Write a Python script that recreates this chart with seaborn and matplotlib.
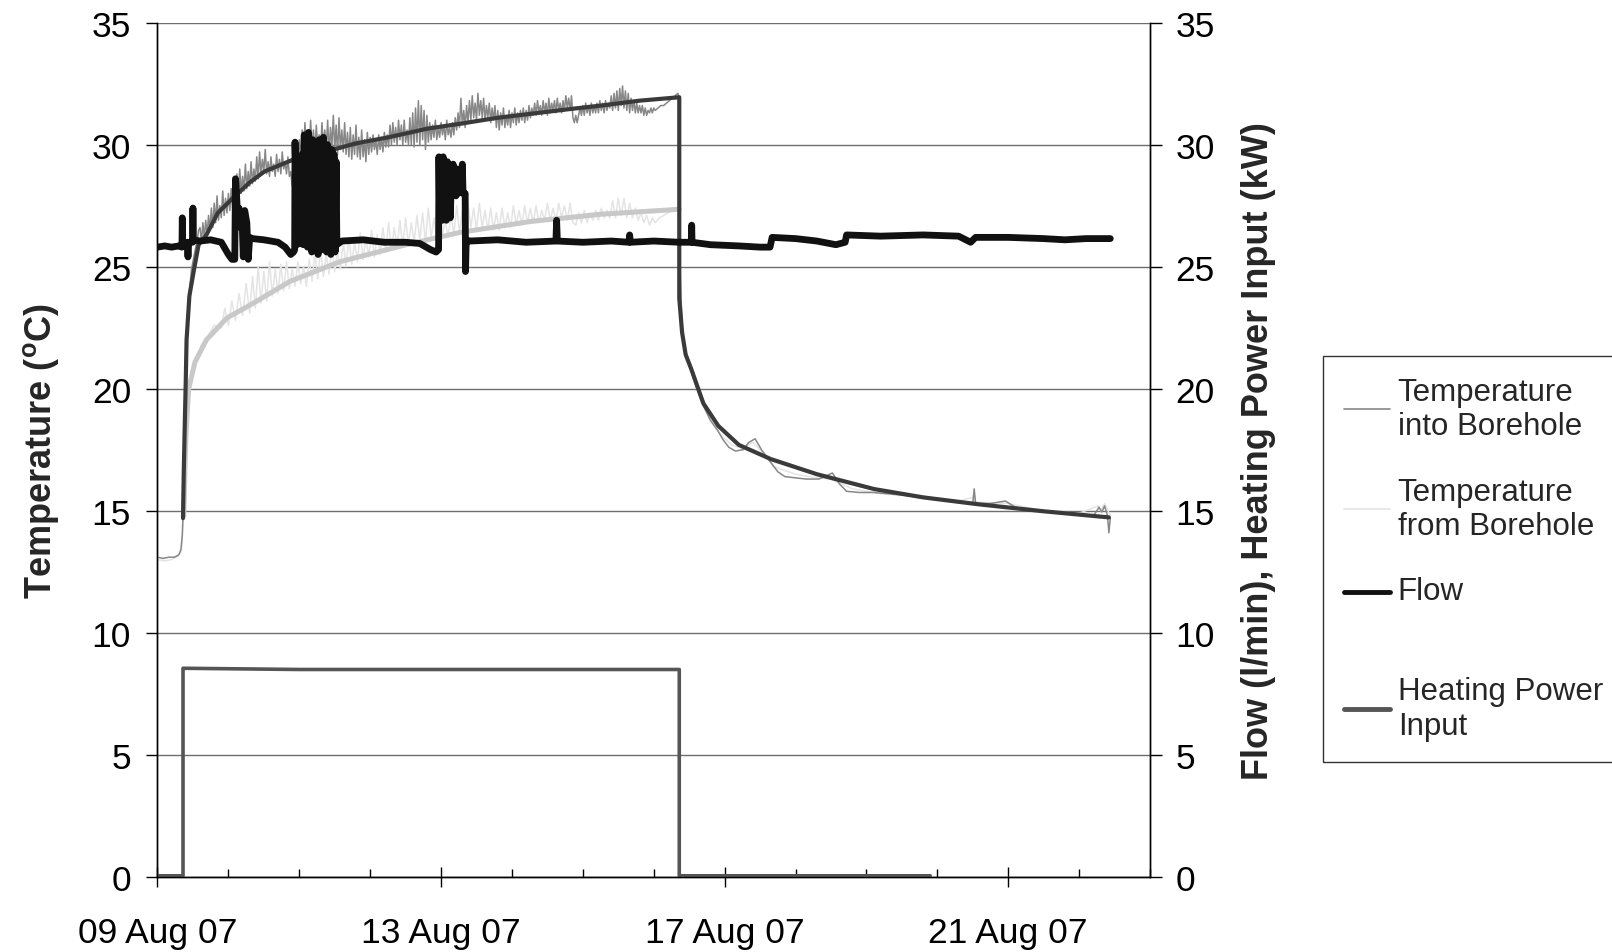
import pandas as pd
import numpy as np
import matplotlib
matplotlib.use("Agg")
import matplotlib.pyplot as plt
import matplotlib.dates as mdates
from matplotlib.lines import Line2D
from matplotlib.legend_handler import HandlerLine2D
import seaborn as sns

start = pd.Timestamp("2007-08-09")

# all values: (days after 09 Aug 07 00:00, value)

# temperature into borehole, measured
into_pre = [(0.00, 13.1), (0.08, 13.05), (0.16, 13.1), (0.24, 13.1), (0.30, 13.2), (0.33, 13.4),
            (0.35, 14.0), (0.36, 14.8), (0.37, 16.8), (0.38, 18.6), (0.40, 21.0), (0.42, 22.8),
            (0.45, 24.0), (0.48, 24.9), (0.52, 25.5), (0.56, 26.1), (0.58, 26.5)]
into_heat = [
    (0.60, 26.6), (0.62, 26.0), (0.64, 26.8), (0.66, 26.2), (0.68, 26.9), (0.70, 26.3), (0.72, 27.1), (0.74, 26.5),
    (0.76, 27.4), (0.78, 26.6), (0.80, 27.6), (0.82, 26.8), (0.84, 27.9), (0.86, 26.9), (0.88, 27.5), (0.90, 27.0),
    (0.92, 28.1), (0.94, 27.1), (0.96, 27.8), (0.98, 27.2), (1.00, 28.0), (1.02, 27.3), (1.04, 28.2), (1.06, 27.4),
    (1.08, 28.4), (1.10, 27.6), (1.12, 28.8), (1.14, 27.9), (1.16, 29.0), (1.18, 28.0), (1.20, 28.7), (1.22, 28.1),
    (1.24, 29.2), (1.26, 28.2), (1.28, 28.9), (1.30, 28.3), (1.32, 29.3), (1.34, 28.4), (1.36, 29.0), (1.38, 28.5),
    (1.40, 29.5), (1.42, 28.6), (1.44, 29.7), (1.46, 28.8), (1.48, 29.4), (1.50, 28.9), (1.52, 29.8), (1.54, 28.8),
    (1.56, 29.3), (1.58, 28.7), (1.60, 29.5), (1.62, 28.9), (1.64, 29.2), (1.66, 28.7), (1.68, 29.6), (1.70, 28.9),
    (1.72, 29.4), (1.74, 28.8), (1.76, 29.7), (1.78, 29.0), (1.80, 29.3), (1.82, 28.8), (1.84, 29.5), (1.86, 28.7),
    (1.88, 28.9), (1.90, 28.3), (1.92, 28.8), (1.94, 28.4), (1.96, 29.0), (1.98, 28.6),
    (2.00, 30.2), (2.02, 29.4), (2.04, 30.6), (2.06, 29.6), (2.08, 30.9), (2.10, 29.8), (2.12, 30.5), (2.14, 29.7),
    (2.16, 31.0), (2.18, 29.9), (2.20, 30.6), (2.22, 29.6), (2.24, 30.8), (2.26, 29.8), (2.28, 30.4), (2.30, 29.7),
    (2.32, 30.9), (2.34, 29.9), (2.36, 30.6), (2.38, 29.8), (2.40, 31.0), (2.42, 29.7), (2.44, 30.7), (2.46, 29.9),
    (2.48, 31.2), (2.50, 29.8), (2.52, 30.8), (2.54, 29.6), (2.56, 31.1), (2.58, 29.8), (2.60, 30.6), (2.62, 29.7),
    (2.64, 30.9), (2.66, 29.6), (2.68, 30.5), (2.70, 29.5), (2.72, 30.7), (2.74, 29.4), (2.76, 30.4), (2.78, 29.6),
    (2.80, 30.8), (2.82, 29.5), (2.84, 30.3), (2.86, 29.4), (2.88, 30.6), (2.90, 29.5), (2.92, 30.2), (2.94, 29.3),
    (2.96, 30.5), (2.98, 29.6), (3.00, 30.3), (3.02, 29.7), (3.04, 30.4), (3.06, 29.8), (3.08, 30.2), (3.10, 29.6),
    (3.12, 30.4), (3.14, 29.8), (3.16, 30.3), (3.18, 29.7), (3.20, 30.5), (3.22, 29.9), (3.24, 30.4), (3.26, 29.9),
    (3.28, 30.8), (3.30, 30.0), (3.32, 30.9), (3.34, 30.1), (3.36, 30.7), (3.38, 30.0), (3.40, 31.0), (3.42, 30.2),
    (3.44, 30.8), (3.46, 30.0), (3.48, 31.0), (3.50, 30.1), (3.52, 30.6), (3.54, 30.0), (3.56, 31.1), (3.58, 30.0),
    (3.60, 31.3), (3.62, 29.9), (3.64, 31.5), (3.66, 30.1), (3.68, 31.8), (3.70, 30.0), (3.72, 31.6), (3.74, 30.2),
    (3.76, 31.4), (3.78, 29.8), (3.80, 31.2), (3.82, 30.1), (3.84, 30.9), (3.86, 30.2), (3.88, 30.8), (3.90, 30.3),
    (3.92, 31.0), (3.94, 30.2), (3.96, 30.7), (3.98, 30.3), (4.00, 30.9), (4.02, 30.4), (4.04, 30.8), (4.06, 30.2),
    (4.08, 31.0), (4.10, 30.4), (4.12, 30.7), (4.14, 30.3), (4.16, 30.9), (4.18, 30.4), (4.20, 31.1), (4.22, 30.6),
    (4.24, 31.3), (4.26, 30.7), (4.28, 31.9), (4.30, 30.8), (4.32, 31.4), (4.34, 30.7), (4.36, 31.6), (4.38, 30.9),
    (4.40, 31.8), (4.42, 31.0), (4.44, 32.0), (4.46, 31.1), (4.48, 31.7), (4.50, 31.0), (4.52, 32.1), (4.54, 31.2),
    (4.56, 31.8), (4.58, 31.1), (4.60, 31.9), (4.62, 31.0), (4.64, 31.6), (4.66, 31.1), (4.68, 31.7), (4.70, 30.9),
    (4.72, 31.5), (4.74, 31.0), (4.76, 31.6), (4.78, 30.7), (4.80, 31.4), (4.82, 30.6), (4.84, 31.3), (4.86, 30.8),
    (4.88, 31.5), (4.90, 30.7), (4.92, 31.2), (4.94, 30.8), (4.96, 31.4), (4.98, 30.7), (5.00, 31.3), (5.02, 30.9),
    (5.04, 31.5), (5.06, 30.8), (5.08, 31.3), (5.10, 30.9), (5.12, 31.4), (5.14, 31.0), (5.16, 31.5), (5.18, 30.9),
    (5.20, 31.4), (5.22, 31.0), (5.24, 31.6), (5.26, 31.1), (5.28, 31.5), (5.30, 31.2), (5.32, 31.7), (5.34, 31.2),
    (5.36, 31.8), (5.38, 31.3), (5.40, 31.6), (5.42, 31.2), (5.44, 31.8), (5.46, 31.3), (5.48, 31.7), (5.50, 31.2),
    (5.52, 31.9), (5.54, 31.3), (5.56, 31.7), (5.58, 31.4), (5.60, 31.8), (5.62, 31.3), (5.64, 31.9), (5.66, 31.4),
    (5.68, 31.7), (5.70, 31.3), (5.72, 31.8), (5.74, 31.4), (5.76, 32.0), (5.78, 31.5), (5.80, 31.9), (5.82, 31.4),
    (5.84, 32.0), (5.86, 31.1), (5.88, 30.9), (5.90, 31.2), (5.92, 30.9), (5.94, 31.2), (5.96, 31.5), (5.98, 31.2),
    (6.00, 31.6), (6.02, 31.2), (6.04, 31.7), (6.06, 31.3), (6.08, 31.6), (6.10, 31.2), (6.12, 31.7), (6.14, 31.3),
    (6.16, 31.6), (6.18, 31.3), (6.20, 31.7), (6.22, 31.3), (6.24, 31.8), (6.26, 31.4), (6.28, 31.7), (6.30, 31.3),
    (6.32, 31.8), (6.34, 31.4), (6.36, 31.7), (6.38, 31.5), (6.40, 32.0), (6.42, 31.4), (6.44, 32.1), (6.46, 31.5),
    (6.48, 32.2), (6.50, 31.4), (6.52, 32.3), (6.54, 31.6), (6.56, 32.4), (6.58, 31.5), (6.60, 32.2), (6.62, 31.4),
    (6.64, 32.1), (6.66, 31.3), (6.68, 31.9), (6.70, 31.4), (6.72, 31.8), (6.74, 31.3), (6.76, 31.7), (6.78, 31.3),
    (6.80, 31.6), (6.82, 31.3), (6.84, 31.6), (6.86, 31.2), (6.88, 31.5), (6.90, 31.2), (6.92, 31.4), (6.94, 31.3),
    (6.96, 31.5), (6.98, 31.3), (7.00, 31.5), (7.02, 31.4), (7.06, 31.5), (7.10, 31.6), (7.14, 31.6), (7.18, 31.7),
    (7.22, 31.8), (7.26, 31.9), (7.30, 32.0), (7.34, 32.1)]
into_after = [(7.36, 31.9), (7.37, 25.0), (7.40, 22.4), (7.45, 21.5), (7.50, 21.0), (7.55, 20.5), (7.62, 19.9),
              (7.70, 19.3), (7.80, 18.7), (7.90, 18.3), (7.98, 17.9), (8.06, 17.6), (8.15, 17.45), (8.26, 17.5),
              (8.34, 17.8), (8.43, 17.95), (8.52, 17.5), (8.62, 17.1), (8.75, 16.6), (8.85, 16.4), (9.00, 16.35),
              (9.15, 16.3), (9.33, 16.3), (9.45, 16.45), (9.52, 16.55), (9.62, 16.1), (9.72, 15.8), (9.90, 15.75),
              (10.10, 15.75), (10.30, 15.7), (10.50, 15.65), (10.75, 15.55), (11.00, 15.45), (11.30, 15.35),
              (11.50, 15.3), (11.52, 15.9), (11.54, 15.3), (11.75, 15.3), (11.96, 15.4), (12.10, 15.15),
              (12.40, 15.0), (12.70, 14.95), (13.00, 14.85), (13.20, 14.8), (13.25, 15.0), (13.28, 15.15),
              (13.32, 14.95), (13.36, 15.2), (13.40, 14.8), (13.42, 14.1), (13.44, 14.7)]

# temperature from borehole, measured
from_pre = [(0.00, 13.0), (0.10, 12.95), (0.20, 13.0), (0.30, 13.15), (0.34, 13.4), (0.36, 14.6),
            (0.38, 17.0), (0.40, 18.3), (0.44, 19.8), (0.50, 20.8), (0.56, 21.3), (0.62, 21.8),
            (0.70, 22.1), (0.80, 22.6), (0.90, 22.5), (0.95, 23.3), (1.00, 22.6), (1.05, 23.6),
            (1.10, 22.8), (1.15, 23.9), (1.20, 23.0), (1.25, 24.3), (1.30, 23.1)]
from_heat = [
    (1.34, 24.6), (1.38, 23.3), (1.42, 25.0), (1.46, 23.5), (1.50, 24.8), (1.54, 23.6), (1.58, 25.2), (1.62, 23.8),
    (1.66, 24.9), (1.70, 23.9), (1.74, 25.1), (1.78, 24.0), (1.82, 25.2), (1.86, 24.1), (1.90, 24.9), (1.94, 24.2),
    (1.98, 25.2), (2.02, 24.3), (2.06, 25.0), (2.10, 24.2), (2.14, 25.3), (2.18, 24.4), (2.22, 25.6), (2.26, 24.5),
    (2.30, 25.7), (2.34, 24.6), (2.38, 25.5), (2.42, 24.7), (2.46, 25.8), (2.50, 24.8), (2.54, 25.6), (2.58, 24.9),
    (2.62, 26.0), (2.66, 25.0), (2.70, 26.2), (2.74, 25.1), (2.78, 26.0), (2.82, 25.2), (2.86, 26.4), (2.90, 25.3),
    (2.94, 26.2), (2.98, 25.4), (3.02, 26.5), (3.06, 25.4), (3.10, 26.3), (3.14, 25.5), (3.18, 26.6), (3.22, 25.6),
    (3.26, 26.8), (3.30, 25.7), (3.34, 26.6), (3.38, 25.8), (3.42, 26.9), (3.46, 25.8), (3.50, 27.0), (3.54, 25.9),
    (3.58, 26.8), (3.62, 26.0), (3.66, 27.1), (3.70, 26.1), (3.74, 27.2), (3.78, 26.0), (3.82, 27.4), (3.86, 26.2),
    (3.90, 27.0), (3.94, 26.1), (3.98, 27.3), (4.02, 26.3), (4.06, 26.9), (4.10, 26.2), (4.14, 27.2), (4.18, 26.3),
    (4.22, 27.5), (4.26, 26.4), (4.30, 27.3), (4.34, 26.5), (4.38, 27.6), (4.42, 26.6), (4.46, 27.4), (4.50, 26.5),
    (4.54, 27.6), (4.58, 26.6), (4.62, 27.3), (4.66, 26.5), (4.70, 27.4), (4.74, 26.5), (4.78, 27.2), (4.82, 26.5),
    (4.86, 27.4), (4.90, 26.6), (4.94, 27.2), (4.98, 26.6), (5.02, 27.5), (5.06, 26.7), (5.10, 27.3), (5.14, 26.7),
    (5.18, 27.5), (5.22, 26.8), (5.26, 27.4), (5.30, 26.8), (5.34, 27.5), (5.38, 26.8), (5.42, 27.3), (5.46, 26.9),
    (5.50, 27.6), (5.54, 26.9), (5.58, 27.4), (5.62, 26.9), (5.66, 27.6), (5.70, 27.0), (5.74, 27.5), (5.78, 26.9),
    (5.82, 27.6), (5.86, 26.8), (5.90, 26.7), (5.94, 27.2), (5.98, 26.8), (6.02, 27.3), (6.06, 26.8), (6.10, 27.2),
    (6.14, 26.9), (6.18, 27.3), (6.22, 26.9), (6.26, 27.4), (6.30, 27.0), (6.34, 27.3), (6.38, 27.0), (6.42, 27.7),
    (6.46, 27.0), (6.50, 27.8), (6.54, 27.1), (6.58, 27.8), (6.62, 27.0), (6.66, 27.6), (6.70, 27.0), (6.74, 27.4),
    (6.78, 26.9), (6.82, 27.2), (6.86, 26.8), (6.90, 27.1), (6.94, 26.7), (6.98, 27.0), (7.02, 26.8), (7.08, 27.0),
    (7.14, 27.1), (7.20, 27.2), (7.26, 27.3), (7.32, 27.4)]
from_after = [(7.36, 27.3), (7.37, 25.2), (7.40, 22.6), (7.46, 21.4), (7.55, 20.6), (7.65, 19.7), (7.75, 19.0),
              (7.85, 18.5), (7.95, 18.1), (8.10, 17.7), (8.25, 17.55), (8.40, 17.8), (8.50, 17.5), (8.70, 16.8),
              (9.00, 16.5), (9.30, 16.35), (9.50, 16.3), (9.80, 15.9), (10.20, 15.7), (10.60, 15.6), (11.00, 15.5),
              (11.30, 15.4), (11.50, 15.55), (11.55, 15.35), (12.00, 15.3), (12.50, 15.0), (13.00, 14.9),
              (13.27, 15.2), (13.30, 15.0), (13.36, 15.3), (13.44, 14.8)]

# smooth model curves (not in the legend)
model_into = [(0.36, 14.7), (0.37, 16.5), (0.38, 17.9), (0.40, 20.5), (0.41, 22.0), (0.45, 23.8), (0.51, 24.8),
              (0.58, 25.9), (0.69, 26.3), (0.85, 27.2), (1.06, 27.8), (1.30, 28.45), (1.51, 28.9), (2.01, 29.5),
              (2.36, 29.7), (2.80, 30.05), (3.26, 30.3), (3.80, 30.65), (4.26, 30.85), (4.80, 31.1), (5.26, 31.26),
              (5.80, 31.45), (6.26, 31.6), (6.80, 31.8), (7.36, 31.94), (7.36, 23.7), (7.40, 22.3), (7.45, 21.4),
              (7.53, 20.8), (7.70, 19.4), (7.91, 18.48), (8.20, 17.7), (8.65, 17.12), (9.30, 16.5), (10.11, 15.89),
              (10.80, 15.55), (11.57, 15.27), (12.50, 14.98), (13.42, 14.73)]
model_from = [(0.37, 14.8), (0.40, 18.0), (0.44, 20.0), (0.53, 21.1), (0.69, 22.0), (0.98, 22.9), (1.35, 23.5),
              (1.87, 24.4), (2.57, 25.2), (3.51, 25.9), (4.26, 26.4), (5.26, 26.85), (6.26, 27.15), (7.36, 27.35)]

# flow (l/min)
flow = [
    (0.00, 25.8), (0.10, 25.85), (0.20, 25.8), (0.30, 25.85), (0.345, 25.8), (0.35, 27.0), (0.355, 25.9),
    (0.42, 26.0), (0.43, 25.4), (0.44, 26.0), (0.495, 26.0), (0.50, 27.4), (0.505, 26.1), (0.60, 26.05),
    (0.75, 26.1), (0.90, 26.0), (0.96, 25.7), (1.00, 25.5), (1.05, 25.3), (1.09, 25.3), (1.10, 28.6),
    (1.11, 28.3), (1.13, 27.0), (1.15, 27.4), (1.17, 26.6), (1.19, 27.2), (1.21, 25.4), (1.23, 27.3),
    (1.26, 26.8), (1.28, 25.3), (1.30, 26.2), (1.34, 26.15), (1.50, 26.1), (1.70, 26.0), (1.80, 25.8),
    (1.88, 25.5), (1.92, 25.6), (1.935, 25.7), (1.94, 30.1), (1.95, 29.0), (1.965, 25.9), (2.03, 26.0),
    (2.04, 29.6), (2.055, 25.9), (2.07, 30.4), (2.085, 26.2), (2.10, 30.1), (2.115, 25.8), (2.13, 30.5),
    (2.145, 27.0), (2.16, 29.8), (2.175, 25.6), (2.19, 30.2), (2.205, 26.5), (2.22, 30.0), (2.235, 25.8),
    (2.25, 29.6), (2.265, 25.5), (2.28, 30.2), (2.295, 26.8), (2.31, 29.9), (2.325, 25.7), (2.34, 30.3),
    (2.355, 26.4), (2.37, 29.5), (2.385, 25.6), (2.40, 30.0), (2.415, 25.9), (2.43, 29.4), (2.445, 25.5),
    (2.46, 29.8), (2.475, 26.2), (2.49, 29.6), (2.505, 25.6), (2.52, 29.3), (2.53, 25.9),
    (2.60, 26.05), (2.90, 26.1), (3.20, 26.0), (3.50, 26.0), (3.70, 25.95), (3.85, 25.7), (3.93, 25.6),
    (3.965, 25.7), (3.97, 29.5), (3.98, 27.0), (3.99, 29.4), (4.00, 27.3), (4.01, 29.3), (4.02, 26.9),
    (4.03, 29.5), (4.045, 27.2), (4.06, 29.2), (4.075, 26.9), (4.09, 29.3), (4.105, 27.4), (4.12, 29.1),
    (4.13, 27.0), (4.14, 28.0), (4.16, 28.1), (4.17, 29.2), (4.18, 28.0), (4.21, 27.9), (4.23, 29.0),
    (4.24, 28.0), (4.28, 28.1), (4.30, 29.2), (4.31, 28.0), (4.34, 28.0), (4.345, 24.8), (4.355, 26.1),
    (4.40, 26.05), (4.80, 26.1), (5.20, 26.0), (5.62, 26.05), (5.63, 26.9), (5.64, 26.05), (6.00, 26.0),
    (6.40, 26.05), (6.65, 26.0), (6.66, 26.3), (6.67, 26.0), (7.00, 26.05), (7.36, 26.0), (7.53, 26.0),
    (7.535, 26.7), (7.54, 26.0), (7.80, 25.9), (8.20, 25.85), (8.50, 25.8), (8.64, 25.8), (8.67, 26.2),
    (9.00, 26.15), (9.30, 26.05), (9.57, 25.9), (9.70, 26.0), (9.72, 26.3), (10.20, 26.25), (10.80, 26.3),
    (11.30, 26.25), (11.47, 26.0), (11.54, 26.2), (12.00, 26.2), (12.50, 26.15), (12.80, 26.1),
    (13.10, 26.15), (13.44, 26.15)]

# heating power input (kW)
power = [(0.00, 0.05), (0.36, 0.05), (0.36, 8.55), (2.00, 8.5), (5.00, 8.5), (7.36, 8.5),
         (7.36, 0.05), (10.90, 0.05)]

# every entry gets a two-line slot, like the original legend
legend_labels = ["Temperature\ninto Borehole", "Temperature\nfrom Borehole", "Flow\n ",
                 "Heating Power\nInput"]
tick_days = pd.date_range("2007-08-09", periods=4, freq="4D")


def to_frame(*parts):
    rows = [p for part in parts for p in part]
    df = pd.DataFrame(rows, columns=["day", "value"])
    df["time"] = start + pd.to_timedelta(df["day"], unit="D")
    return df


class FirstLineHandler(HandlerLine2D):
    # keeps the handle beside the first text line of a two-line slot
    def create_artists(self, legend, orig_handle, xdescent, ydescent, width, height, fontsize, trans):
        arts = super().create_artists(legend, orig_handle, xdescent, ydescent, width, height, fontsize, trans)
        for a in arts:
            a.set_ydata(np.asarray(a.get_ydata()) + 0.55 * fontsize)
        return arts


sns.set_style("white")
plt.rcParams["font.family"] = ["Liberation Sans", "DejaVu Sans"]
plt.rcParams["mathtext.fontset"] = "custom"
plt.rcParams["mathtext.rm"] = "Liberation Sans"
plt.rcParams["mathtext.bf"] = "Liberation Sans:bold"

fig = plt.figure(figsize=(16.12, 9.53), dpi=100)
ax = fig.add_axes([0.0977, 0.0787, 0.6157, 0.8966])

c_into, c_from = "#878787", "#e4e4e4"
c_mod_into, c_mod_from = "#3a3a3a", "#c8c8c8"
c_flow, c_power = "#111111", "#555555"

common = dict(x="time", y="value", estimator=None, sort=False, legend=False)
sns.lineplot(data=to_frame(from_pre, from_heat, from_after), ax=ax, color=c_from, linewidth=1.1, zorder=2, **common)
sns.lineplot(data=to_frame(into_pre, into_heat, into_after), ax=ax, color=c_into, linewidth=1.1, zorder=3, **common)
sns.lineplot(data=to_frame(model_from), ax=ax, color=c_mod_from, linewidth=3.6, zorder=4, **common)
sns.lineplot(data=to_frame(model_into), ax=ax, color=c_mod_into, linewidth=3.0, zorder=5, **common)

ax2 = ax.twinx()
sns.lineplot(data=to_frame(power), ax=ax2, color=c_power, linewidth=2.6, zorder=2, **common)
sns.lineplot(data=to_frame(flow), ax=ax2, color=c_flow, linewidth=4.9, zorder=3, **common)

ax.set_xlim(start, start + pd.Timedelta(days=14))
ax.set_ylim(0, 35)
ax2.set_ylim(0, 35)
ax.set_yticks(np.arange(0, 36, 5))
ax2.set_yticks(np.arange(0, 36, 5))
ax.set_xticks(tick_days)
ax.set_xticks(pd.date_range("2007-08-09", "2007-08-23", freq="D"), minor=True)
ax.xaxis.set_major_formatter(mdates.DateFormatter("%d %b %y"))

ax.yaxis.grid(True, color="#6e6e6e", linewidth=1)
ax.xaxis.grid(False)
ax.set_axisbelow(True)

for a in (ax, ax2):
    a.set_xlabel("")
    a.spines["top"].set_visible(False)
    for s in ("left", "right", "bottom"):
        a.spines[s].set_color("black")
        a.spines[s].set_linewidth(1)

ax.tick_params(axis="y", left=True, direction="out", length=8, width=1, pad=11, labelsize=25.5, colors="black")
ax.tick_params(axis="x", which="major", bottom=True, direction="inout", length=14, width=1, pad=21,
               labelsize=25.5, colors="black")
ax.tick_params(axis="x", which="minor", bottom=True, direction="in", length=6, width=1, colors="black")
ax2.tick_params(axis="y", right=True, direction="out", length=8.5, width=1, pad=10, labelsize=25.5, colors="black")

ax.set_ylabel("Temperature ($^{\\mathbf{o}}$C)", fontsize=26, fontweight="bold")
ax.yaxis.set_label_coords(-0.097, 0.5)
ax2.set_ylabel("Flow (l/min), Heating Power Input (kW)", fontsize=26, fontweight="bold")
ax2.yaxis.set_label_coords(1.092, 0.5)

handles = [Line2D([], [], color=c_into, linewidth=1.2),
           Line2D([], [], color=c_from, linewidth=1.2),
           Line2D([], [], color=c_flow, linewidth=3.5),
           Line2D([], [], color=c_power, linewidth=3.5)]
leg = fig.legend(handles, legend_labels, loc="upper left", bbox_to_anchor=(0.8207, 0.6254),
                 borderaxespad=0, frameon=True, fancybox=False, edgecolor="black", fontsize=22.5,
                 handlelength=1.47, handletextpad=0.26, labelspacing=1.13, borderpad=0.66,
                 handler_map={handles[2]: FirstLineHandler()})
leg.get_frame().set_linewidth(1)

fig.savefig("out.png", dpi=100)
